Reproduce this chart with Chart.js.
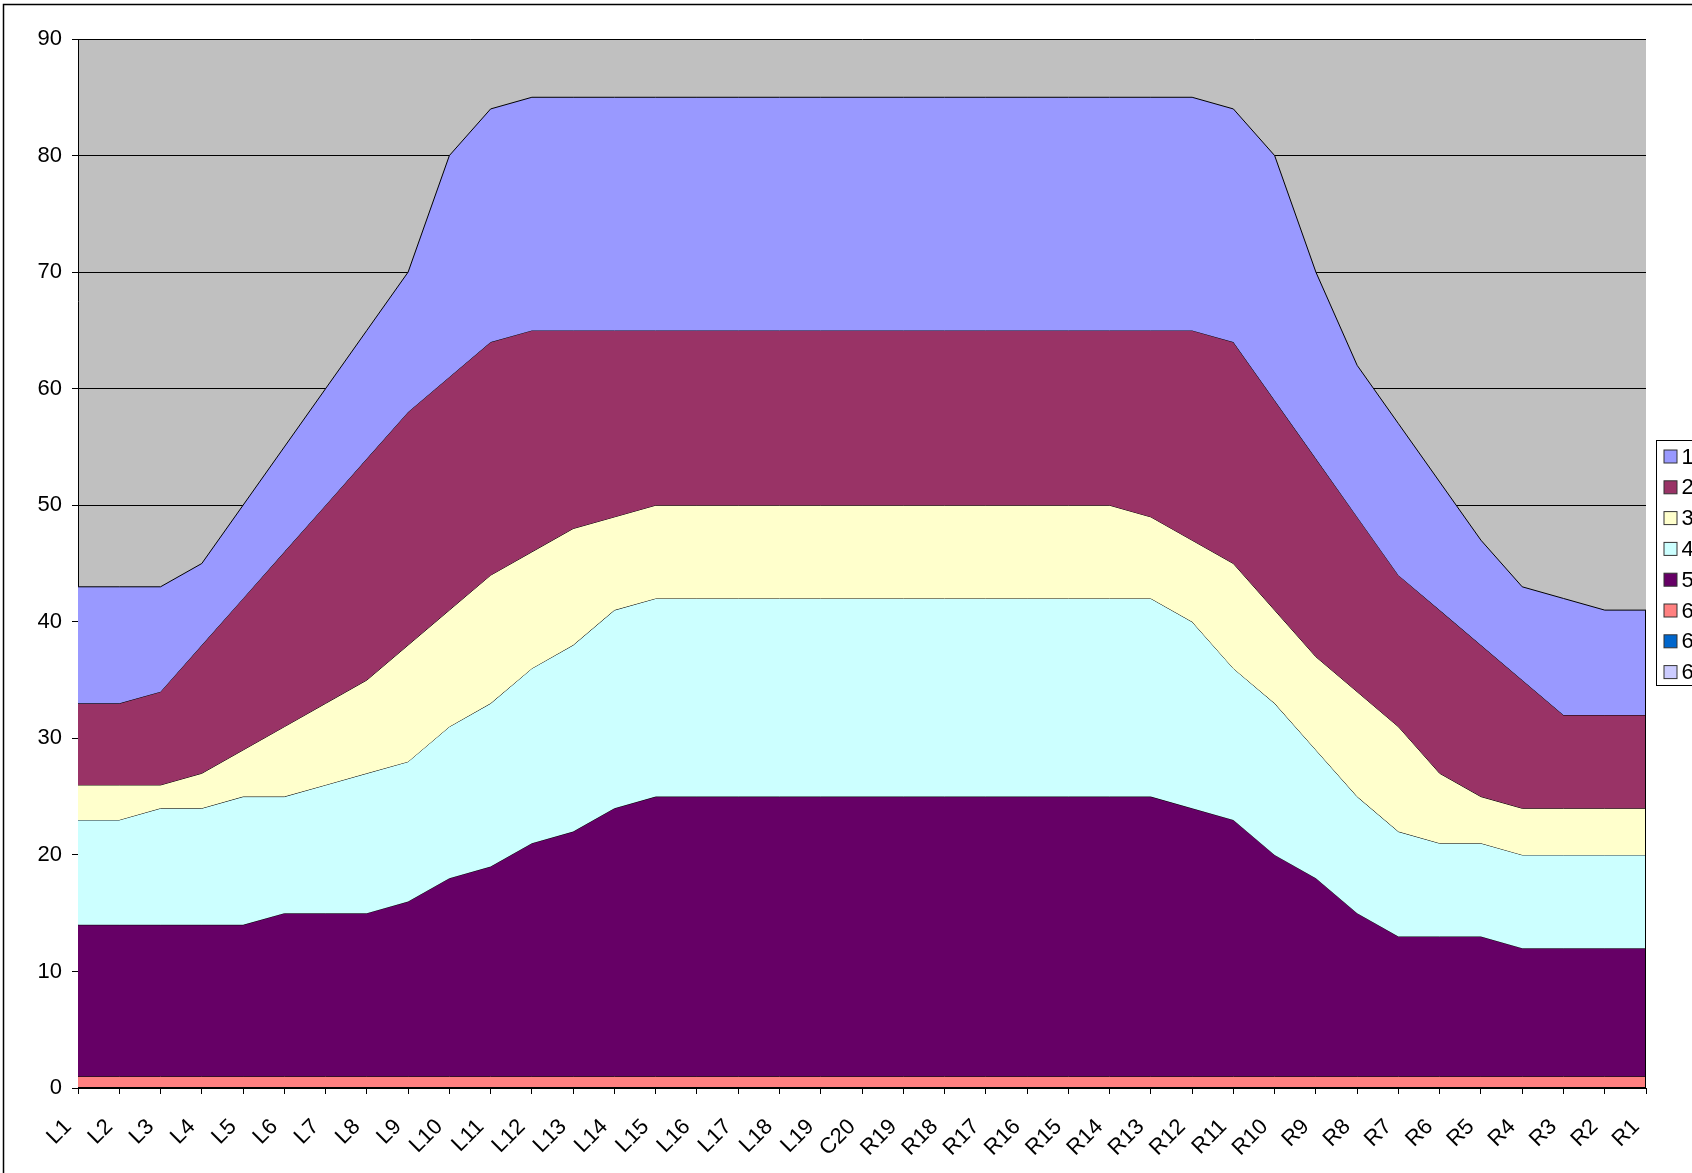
<!DOCTYPE html>
<html>
<head>
<meta charset="utf-8">
<script src="https://cdn.jsdelivr.net/npm/chart.js@4.4.1/dist/chart.umd.min.js"></script>
<style>
  html, body { margin: 0; padding: 0; background: #fff; overflow: hidden; }
  #wrap { position: absolute; left: 0; top: 0; width: 1692px; height: 1173px; }
</style>
</head>
<body>
<div id="wrap"><canvas id="areaChart" width="1692" height="1173"></canvas></div>
<script>
// categories along the bottom
const labels = ['L1','L2','L3','L4','L5','L6','L7','L8','L9','L10','L11','L12','L13','L14','L15','L16','L17','L18','L19','C20',
                'R19','R18','R17','R16','R15','R14','R13','R12','R11','R10','R9','R8','R7','R6','R5','R4','R3','R2','R1'];

// series values (top edge of each band)
const s1 = [43,43,43,45,50,55,60,65,70,80,84,85,85,85,85,85,85,85,85,85,85,85,85,85,85,85,85,85,84,80,70,62,57,52,47,43,42,41,41];
const s2 = [33,33,34,38,42,46,50,54,58,61,64,65,65,65,65,65,65,65,65,65,65,65,65,65,65,65,65,65,64,59,54,49,44,41,38,35,32,32,32];
const s3 = [26,26,26,27,29,31,33,35,38,41,44,46,48,49,50,50,50,50,50,50,50,50,50,50,50,50,49,47,45,41,37,34,31,27,25,24,24,24,24];
const s4 = [23,23,24,24,25,25,26,27,28,31,33,36,38,41,42,42,42,42,42,42,42,42,42,42,42,42,42,40,36,33,29,25,22,21,21,20,20,20,20];
const s5 = [14,14,14,14,14,15,15,15,16,18,19,21,22,24,25,25,25,25,25,25,25,25,25,25,25,25,25,24,23,20,18,15,13,13,13,12,12,12,12];
const s6 = [1,1,1,1,1,1,1,1,1,1,1,1,1,1,1,1,1,1,1,1,1,1,1,1,1,1,1,1,1,1,1,1,1,1,1,1,1,1,1];
const s7 = [0,0,0,0,0,0,0,0,0,0,0,0,0,0,0,0,0,0,0,0,0,0,0,0,0,0,0,0,0,0,0,0,0,0,0,0,0,0,0];
const s8 = [0,0,0,0,0,0,0,0,0,0,0,0,0,0,0,0,0,0,0,0,0,0,0,0,0,0,0,0,0,0,0,0,0,0,0,0,0,0,0];

const seriesNames = ['1','2','3','4','5','6','6','6'];
const seriesColors = ['#9999FF','#993366','#FFFFCC','#CCFFFF','#660066','#FF8080','#0066CC','#CCCCFF'];
const yTicks = [0,10,20,30,40,50,60,70,80,90];

const FONT = '"Liberation Sans", Arial, sans-serif';

const allSeries = [s1, s2, s3, s4, s5, s6, s7, s8];
const datasets = allSeries.map((d, i) => ({
    label: seriesNames[i],
    data: d,
    backgroundColor: seriesColors[i],
    borderColor: '#000',
    borderWidth: 1,
    pointRadius: 0,
    tension: 0,
    fill: i < 5 ? '+1' : (i === 5 ? 'origin' : false)
}));

// grey plot area + outer border
const frame = {
    id: 'frame',
    beforeDraw(chart) {
        const {ctx, chartArea: a} = chart;
        ctx.save();
        ctx.fillStyle = '#fff';
        ctx.fillRect(0, 0, chart.width, chart.height);
        ctx.fillStyle = '#C0C0C0';
        ctx.fillRect(a.left, a.top, a.right - a.left, a.bottom - a.top);
        ctx.strokeStyle = '#000';
        ctx.lineWidth = 1.5;
        ctx.strokeRect(3.5, 4.5, 1800, 1300);
        ctx.restore();
    },
    afterDatasetsDraw(chart) {
        const {ctx, chartArea: a} = chart;
        ctx.save();
        ctx.strokeStyle = '#000';
        ctx.lineWidth = 1;
        const y = chart.scales.y;
        ctx.beginPath();
        ctx.moveTo(a.right - 0.5, y.getPixelForValue(s1[s1.length - 1]));
        ctx.lineTo(a.right - 0.5, a.bottom);
        ctx.stroke();
        ctx.lineWidth = 2;
        ctx.beginPath();
        ctx.moveTo(a.left, a.bottom);
        ctx.lineTo(a.right, a.bottom);
        ctx.stroke();
        ctx.restore();
    }
};

// legend box at the right edge (runs past the canvas edge like the original)
const sideLegend = {
    id: 'sideLegend',
    afterDraw(chart) {
        const {ctx} = chart;
        const x0 = 1656.5, y0 = 440.5, rowH = 30.8;
        ctx.save();
        ctx.fillStyle = '#fff';
        ctx.fillRect(x0, y0, 200, 245);
        ctx.strokeStyle = '#000';
        ctx.lineWidth = 1;
        ctx.strokeRect(x0, y0, 200, 245);
        ctx.font = '22px ' + FONT;
        ctx.textBaseline = 'middle';
        chart.data.datasets.forEach((ds, i) => {
            const cy = y0 + 16 + i * rowH;
            ctx.fillStyle = ds.backgroundColor;
            ctx.fillRect(x0 + 7.5, cy - 6.5, 13, 13);
            ctx.strokeStyle = '#333';
            ctx.strokeRect(x0 + 7.5, cy - 6.5, 13, 13);
            ctx.fillStyle = '#000';
            ctx.fillText(ds.label, x0 + 25, cy + 1);
        });
        ctx.restore();
    }
};

const ctx = document.getElementById('areaChart').getContext('2d');
const areaChart = new Chart(ctx, {
    type: 'line',
    data: { labels: labels, datasets: datasets },
    options: {
        responsive: false,
        animation: false,
        layout: { padding: { left: 0, right: 46, top: 39, bottom: 0 } },
        plugins: {
            legend: { display: false },
            tooltip: { enabled: false }
        },
        scales: {
            x: {
                offset: false,
                afterFit(scale) { scale.height = 85; },
                grid: { drawOnChartArea: false, color: '#000', tickLength: 6, tickColor: '#000' },
                border: { display: true, color: '#000', width: 1 },
                ticks: {
                    color: '#000',
                    font: { family: FONT, size: 22 },
                    maxRotation: 45,
                    minRotation: 45,
                    autoSkip: false,
                    padding: 20,
                    labelOffset: -10
                }
            },
            y: {
                min: 0,
                max: 90,
                afterFit(scale) { scale.width = 78; },
                afterBuildTicks(scale) { scale.ticks = yTicks.map(v => ({ value: v })); },
                grid: { color: '#000', lineWidth: 1, tickLength: 6, tickColor: '#000' },
                border: { display: true, color: '#000', width: 1 },
                ticks: {
                    color: '#000',
                    font: { family: FONT, size: 22 },
                    padding: 10
                }
            }
        }
    },
    plugins: [frame, sideLegend]
});
</script>
</body>
</html>
